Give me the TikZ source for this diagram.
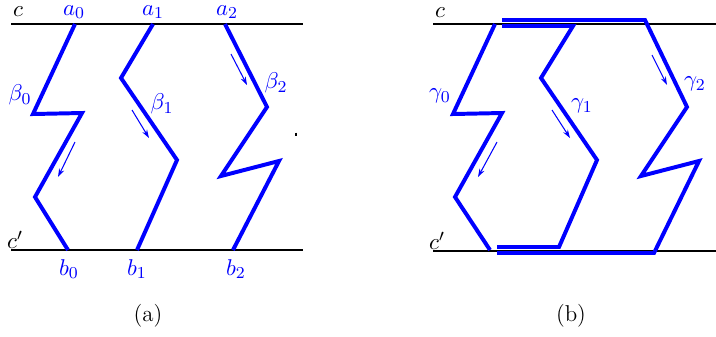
\documentclass[tikz,border=0pt]{standalone}
\usetikzlibrary{arrows.meta}

\begin{document}
\begin{tikzpicture}[x=0.48pt, y=-0.48pt,
  curve/.style={blue, line width=1.9pt},
  level/.style={black, line width=0.5pt},
  flow/.style={blue, line width=0.5pt, -{Stealth[length=4pt, width=2.6pt]}},
  lbl/.style={text=blue, inner sep=1pt, font=\fontsize{11}{13}\selectfont},
  side/.style={text=black, inner sep=1pt, font=\fontsize{11}{13}\selectfont},
  subcap/.style={font=\fontsize{11}{13}\selectfont},
]
\useasboundingbox (0,0) rectangle (716,336);

% === Panel (a): levels c and c' ===
\coordinate (ca0) at (11,24);  \coordinate (ca1) at (303,24);
\coordinate (da0) at (11,250); \coordinate (da1) at (303,250);
\draw[level] (ca0) -- (ca1);
\draw[level] (da0) -- (da1);
\node[side] (cA) at (18,12) {$c$};
\node[side] (dA) at (15,240) {$c'$};

% === Panel (a): end points ===
\node[lbl] (a0) at (74,12) {$a_0$};
\node[lbl] (a1) at (153,12) {$a_1$};
\node[lbl] (a2) at (227,12) {$a_2$};
\node[lbl] (b0) at (69,269) {$b_0$};
\node[lbl] (b1) at (137,269) {$b_1$};
\node[lbl] (b2) at (236,269) {$b_2$};

% === Panel (a): paths beta ===
\draw[curve] (75,24) -- (33,114) -- (82,113) -- (35,197) -- (68,250);
\draw[curve] (153,24) -- (121,78) -- (177,160) -- (137,250);
\draw[curve] (225,24) -- (267,107) -- (221,176) -- (279,161) -- (233,250);
\node[lbl] (beta0) at (20,95) {$\beta_0$};
\node[lbl] (beta1) at (162,104) {$\beta_1$};
\node[lbl] (beta2) at (276,83) {$\beta_2$};

% === Panel (a): directions ===
\coordinate (fa0) at (75,142);  \coordinate (fa1) at (58,177);
\coordinate (fb0) at (132,110); \coordinate (fb1) at (149,138);
\coordinate (fc0) at (231,54);  \coordinate (fc1) at (247,85);
\draw[flow] (fa0) -- (fa1);
\draw[flow] (fb0) -- (fb1);
\draw[flow] (fc0) -- (fc1);
\draw[black, line width=0.6pt] (296,132.5) -- (296,136);

% === Panel (b): levels c and c' ===
\coordinate (cb0) at (433,24);  \coordinate (cb1) at (716,24);
\coordinate (db0) at (433,251); \coordinate (db1) at (716,251);
\draw[level] (cb0) -- (cb1);
\draw[level] (db0) -- (db1);
\node[side] (cB) at (440,13) {$c$};
\node[side] (dB) at (437,241) {$c'$};

% === Panel (b): paths gamma, joined along c and c' ===
\draw[curve] (495,24) -- (453,114) -- (502,113) -- (455,197) -- (490,250);
\draw[curve] (502,26) -- (573,26) -- (541,78) -- (597,160) -- (559,247) -- (497,247);
\draw[curve] (502,20) -- (645,20) -- (687,107) -- (641,176) -- (699,161) -- (654,253) -- (497,253);
\node[lbl] (gamma0) at (440,96) {$\gamma_0$};
\node[lbl] (gamma1) at (582,106) {$\gamma_1$};
\node[lbl] (gamma2) at (695,84) {$\gamma_2$};

% === Panel (b): directions ===
\coordinate (ga0) at (497,142); \coordinate (ga1) at (478,177);
\coordinate (gb0) at (552,110); \coordinate (gb1) at (570,138);
\coordinate (gc0) at (652,55);  \coordinate (gc1) at (667,85);
\draw[flow] (ga0) -- (ga1);
\draw[flow] (gb0) -- (gb1);
\draw[flow] (gc0) -- (gc1);

% === Captions ===
\node[subcap] (capA) at (148,316) {(a)};
\node[subcap] (capB) at (571,316) {(b)};

\end{tikzpicture}
\end{document}
